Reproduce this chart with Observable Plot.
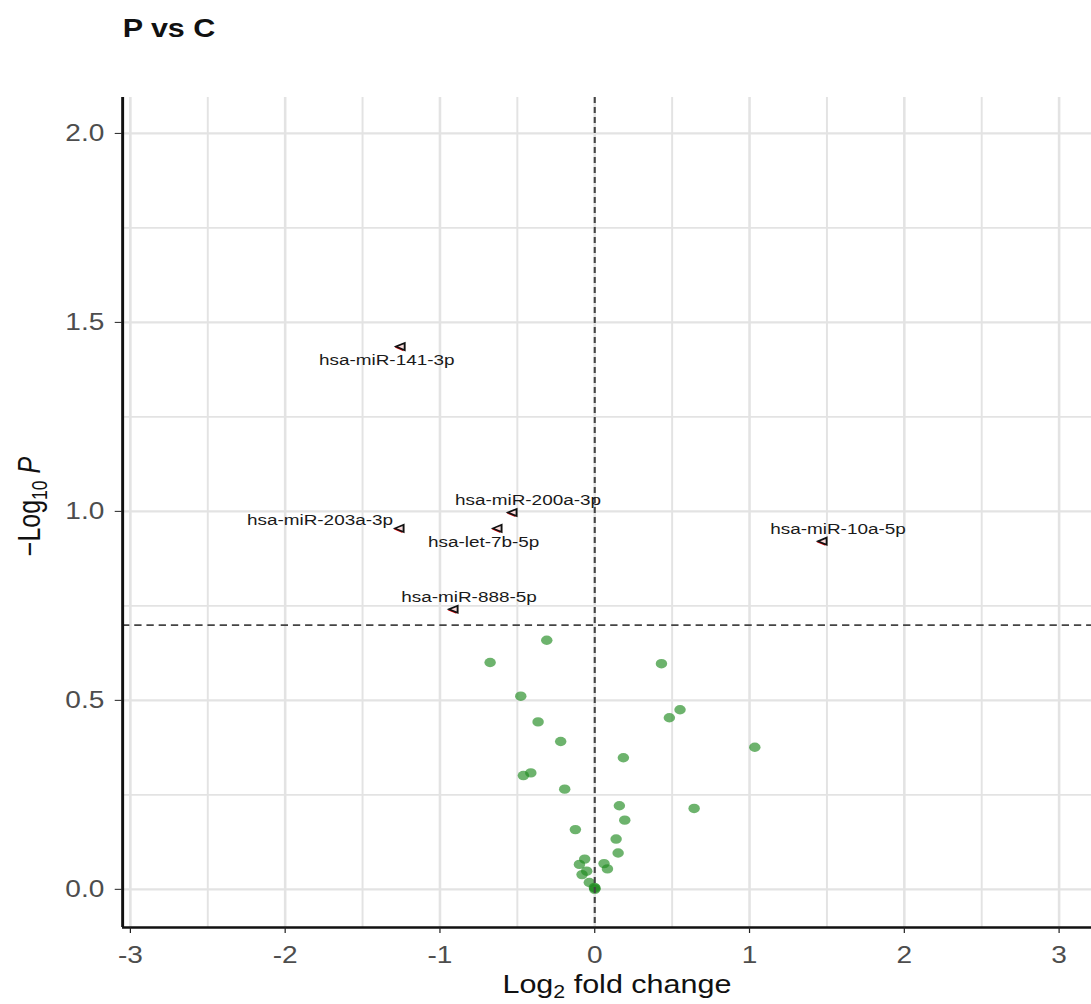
<!DOCTYPE html>
<html>
<head>
<meta charset="utf-8">
<script src="https://cdn.jsdelivr.net/npm/d3@7"></script>
<script src="https://cdn.jsdelivr.net/npm/@observablehq/plot@0.6"></script>
<style>
  html, body { margin: 0; padding: 0; background: #fff; }
  #chart { width: 1091px; height: 1004px; overflow: hidden; }
  #chart svg { display: block; }
</style>
</head>
<body>
<div id="chart"></div>
<script>
// ---------- data ----------
const titleText = "P vs C";
const xTitle = "Log2 fold change";
const yTitle = "−Log10 P";

const labeledGenes    = ["hsa-miR-141-3p", "hsa-miR-200a-3p", "hsa-miR-203a-3p", "hsa-let-7b-5p", "hsa-miR-888-5p", "hsa-miR-10a-5p"];
const labeledLog2FC   = [-1.253, -0.530, -1.260, -0.627, -0.911, 1.473];
const labeledNegLogP  = [1.436, 0.997, 0.955, 0.955, 0.741, 0.921];

const otherLog2FC  = [-0.310, -0.676, 0.431, -0.478, 0.551, 0.482, -0.366, -0.220, 0.185, 1.034,
                      -0.413, -0.461, -0.194, 0.159, 0.642, 0.194, -0.125, 0.138, 0.151, -0.065,
                      -0.099, 0.060, 0.082, -0.052, -0.082, -0.035, 0.000, 0.002, -0.002];
const otherNegLogP = [0.659, 0.600, 0.597, 0.511, 0.475, 0.454, 0.443, 0.391, 0.348, 0.376,
                      0.308, 0.301, 0.265, 0.221, 0.214, 0.183, 0.158, 0.133, 0.096, 0.080,
                      0.066, 0.068, 0.054, 0.048, 0.039, 0.018, 0.000, 0.003, 0.005];

const fcCutoffLine = [0];
const pCutoffLine = [0.699];

const xTicks = [-3, -2, -1, 0, 1, 2, 3];
const xMinorGrid = [-2.5, -1.5, -0.5, 0.5, 1.5, 2.5];
const yTicks = [0, 0.5, 1.0, 1.5, 2.0];
const yMinorGrid = [0.25, 0.75, 1.25, 1.75];
const xDomain = [-3.05, 3.21];
const yDomain = [-0.101, 2.095];

// ---------- build ----------
const labeled = labeledGenes.map((g, i) => ({gene: g, fc: labeledLog2FC[i], p: labeledNegLogP[i]}));
const others = otherLog2FC.map((fc, i) => ({fc, p: otherNegLogP[i]}));

const W = 894, H = 1004, OUTW = 1091;

const leftTriangle = {
  draw(ctx, size) {
    const a = Math.sqrt(size) * 0.62;
    ctx.moveTo(-a, 0);
    ctx.lineTo(a * 0.8, -a * 0.9);
    ctx.lineTo(a * 0.8, a * 0.9);
    ctx.closePath();
  }
};

const gridStyle = {stroke: "#e3e3e3", strokeOpacity: 1};
const dashStyle = {stroke: "#444", strokeWidth: 1.7, strokeDasharray: "6,4"};
const labelStyle = {x: "fc", y: "p", text: "gene", fontSize: 15.5, fill: "#1a1a1a"};

const plot = Plot.plot({
  width: W,
  height: H,
  marginLeft: 100,
  marginRight: 0,
  marginTop: 97,
  marginBottom: 77,
  x: {domain: xDomain},
  y: {domain: yDomain},
  style: {fontFamily: "'Liberation Sans', Arial, Helvetica, sans-serif", background: "#fff", overflow: "visible"},
  marks: [
    Plot.ruleX(xMinorGrid, {...gridStyle, strokeWidth: 1.6}),
    Plot.ruleX(xTicks, {...gridStyle, strokeWidth: 2.1}),
    Plot.ruleY(yMinorGrid, {...gridStyle, strokeWidth: 1.6}),
    Plot.ruleY(yTicks, {...gridStyle, strokeWidth: 2.1}),
    Plot.dot(others, {x: "fc", y: "p", r: 4.7, fill: "#228B22", fillOpacity: 0.66}),
    Plot.ruleX(fcCutoffLine, dashStyle),
    Plot.ruleY(pCutoffLine, dashStyle),
    Plot.dot(labeled, {x: "fc", y: "p", symbol: leftTriangle, r: 3.6, fill: "#e00000", dx: -1, dy: 1}),
    Plot.dot(labeled, {x: "fc", y: "p", symbol: leftTriangle, r: 3.6, fill: "#fff", fillOpacity: 0.85, stroke: "#111", strokeWidth: 1.6}),
    Plot.text(labeled.filter(d => d.gene === "hsa-miR-141-3p" || d.gene === "hsa-let-7b-5p"),
      {...labelStyle, dx: -11.5, dy: 13.5}),
    Plot.text(labeled.filter(d => ["hsa-miR-200a-3p", "hsa-miR-888-5p", "hsa-miR-10a-5p"].includes(d.gene)),
      {...labelStyle, dx: 12.5, dy: -12.5}),
    Plot.text(labeled.filter(d => d.gene === "hsa-miR-203a-3p"),
      {...labelStyle, textAnchor: "end", dx: -5.5, dy: -8}),
    Plot.ruleX([xDomain[0]], {stroke: "#111", strokeWidth: 2.4}),
    Plot.ruleY([yDomain[0]], {stroke: "#111", strokeWidth: 2.4}),
    Plot.axisX({ticks: xTicks, tickFormat: d => String(d), tickSize: 6, tickPadding: 13, fontSize: 23, label: null, stroke: "#222", fill: "#4d4d4d"}),
    Plot.axisY({ticks: yTicks, tickFormat: d3.format(".1f"), tickSize: 6, tickPadding: 9, fontSize: 23, label: null, stroke: "#222", fill: "#4d4d4d"}),
    Plot.text([titleText], {frameAnchor: "top-left", dx: 0, dy: -78, fontSize: 25, fontWeight: "bold", fill: "#111", textAnchor: "start"}),
    Plot.text([xTitle], {frameAnchor: "bottom", dx: 8, dy: 65, fontSize: 25, fill: "#111", textAnchor: "middle"}),
    Plot.text([yTitle], {frameAnchor: "left", dx: -76, dy: -6, fontSize: 25, fill: "#111", rotate: -90, textAnchor: "middle", lineAnchor: "middle"})
  ]
});

// horizontal stretch to match the reference's aspect
plot.setAttribute("width", OUTW);
plot.setAttribute("height", H);
plot.setAttribute("viewBox", `0 0 ${W} ${H}`);
plot.setAttribute("preserveAspectRatio", "none");

// rich text for axis titles (subscripts / italic)
d3.select(plot).selectAll("text").each(function () {
  const t = d3.select(this);
  const s = this.textContent;
  if (s === xTitle) {
    t.text(null);
    t.append("tspan").text("Log");
    t.append("tspan").attr("dy", 5).attr("font-size", "70%").text("2");
    t.append("tspan").attr("dy", -5).text(" fold change");
  } else if (s === yTitle) {
    t.text(null);
    t.append("tspan").text("−Log");
    t.append("tspan").attr("dy", 6).attr("font-size", "70%").text("10");
    t.append("tspan").attr("dy", -6).text(" ");
    t.append("tspan").attr("font-style", "italic").text("P");
  }
});

document.getElementById("chart").appendChild(plot);
</script>
</body>
</html>
